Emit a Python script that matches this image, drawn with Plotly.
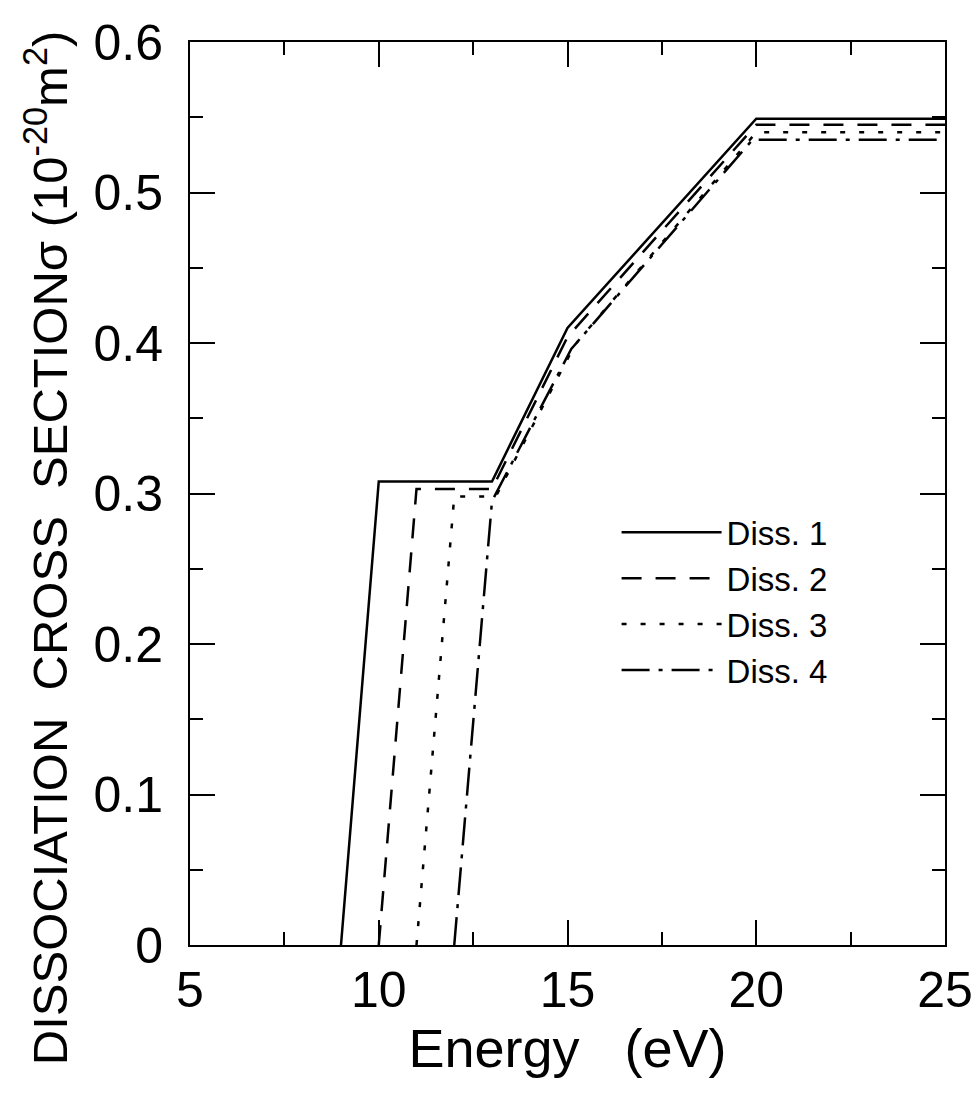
import plotly.graph_objects as go

# Data
diss1_x = [9, 10, 13, 15, 20, 25]
diss1_y = [0, 0.308, 0.308, 0.41, 0.549, 0.549]

diss2_x = [10, 11, 13, 15, 20, 25]
diss2_y = [0, 0.303, 0.303, 0.404, 0.545, 0.545]

diss3_x = [11, 12, 13.1, 15.2, 20, 25]
diss3_y = [0, 0.298, 0.298, 0.399, 0.540, 0.540]

diss4_x = [12, 13, 15.1, 19.9, 25]
diss4_y = [0, 0.295, 0.396, 0.535, 0.535]

series_names = ["Diss. 1", "Diss. 2", "Diss. 3", "Diss. 4"]
x_ticks = [5, 10, 15, 20, 25]
y_ticks = [0, 0.1, 0.2, 0.3, 0.4, 0.5, 0.6]
y_tick_labels = ["0", "0.1", "0.2", "0.3", "0.4", "0.5", "0.6"]

FONT = "Liberation Sans, Arial, Helvetica, sans-serif"

fig = go.Figure()
styles = [
    dict(color="black", width=2.5, dash="solid"),
    dict(color="black", width=2.5, dash="20px,14px"),
    dict(color="black", width=2.5, dash="5px,14px"),
    dict(color="black", width=2.5, dash="28px,9px,4px,9px"),
]
for xs, ys, name, st in zip(
    [diss1_x, diss2_x, diss3_x, diss4_x],
    [diss1_y, diss2_y, diss3_y, diss4_y],
    series_names, styles):
    fig.add_trace(go.Scatter(x=xs, y=ys, mode="lines", name=name, line=st))

axis_common = dict(
    showgrid=False, zeroline=False, showline=True, linecolor="black",
    linewidth=2, mirror="ticks", ticks="inside", ticklen=25, tickwidth=2,
    tickcolor="black", tickfont=dict(family=FONT, size=50, color="black"),
    automargin=False,
)
fig.update_xaxes(
    range=[5, 25], tickvals=x_ticks, ticktext=[str(v) for v in x_ticks],
    minor=dict(dtick=2.5, ticks="inside", ticklen=13, tickwidth=2, tickcolor="black"),
    title=dict(text="Energy\u00a0\u00a0\u00a0(eV)", font=dict(family=FONT, size=54, color="black"), standoff=6),
    **axis_common,
)
fig.update_yaxes(
    range=[0, 0.6], tickvals=y_ticks, ticktext=y_tick_labels,
    minor=dict(dtick=0.05, ticks="inside", ticklen=13, tickwidth=2, tickcolor="black"),
    ticklabelstandoff=15,
    **axis_common,
)

fig.add_annotation(
    text="DISSOCIATION\u00a0\u00a0CROSS\u00a0\u00a0SECTION\u03c3\u00a0(10<sup>-20</sup>m<sup>2</sup>)",
    xref="paper", yref="paper", x=-0.19, y=0.44, textangle=-90,
    showarrow=False, font=dict(family=FONT, size=49, color="black"),
    xanchor="center", yanchor="middle",
)

# The page body has an 8px default margin, so margins are offset by 8px
fig.update_layout(
    width=979, height=1097,
    margin=dict(l=182, r=42, t=34, b=160),
    paper_bgcolor="white", plot_bgcolor="white",
    showlegend=True,
    legend=dict(
        x=0.565, y=0.488, xanchor="left", yanchor="top",
        bgcolor="rgba(0,0,0,0)", borderwidth=0,
        font=dict(family=FONT, size=33, color="black"),
        itemwidth=100, tracegroupgap=0,
    ),
)

fig.write_html("out.html")
